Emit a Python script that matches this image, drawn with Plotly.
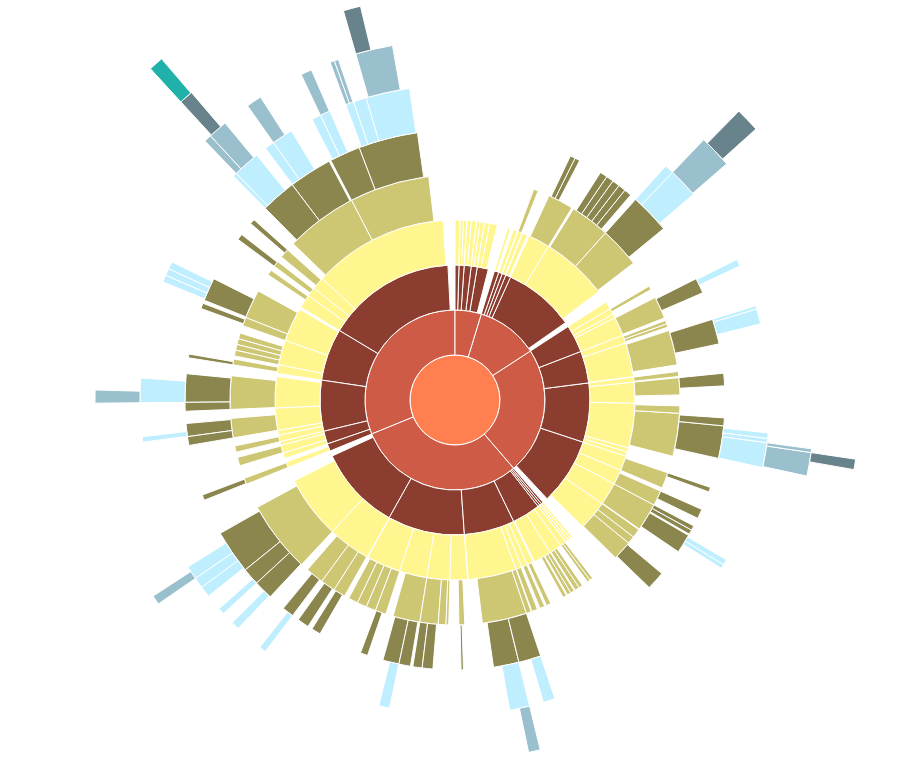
import plotly.graph_objects as go

# colour per ring, centre outwards
DEPTH_COLORS = ["#ff7f50", "#cd5b45", "#8b3e2f", "#fff68f", "#cdc673",
                "#8b864e", "#bfefff", "#9ac0cd", "#68838b", "#20b2aa"]
GAP = "rgba(0,0,0,0)"

# (node id, own value in degrees). ids are dotted paths, "g*" = empty gap.
# every list reads clockwise from 12 o'clock.
root = [("root", 0)]

sector_a = [
    ("A", 0),
    ("A.1", 0), ("A.1.1", 1.6), ("A.1.g", 0.1),
    ("A.2", 0), ("A.2.1", 1.0), ("A.2.2", 1.1), ("A.2.g", 0.1),
    ("A.3", 0), ("A.3.1", 1.3), ("A.3.2", 1.6), ("A.3.g", 0.1),
    ("A.4", 0), ("A.4.1", 1.1), ("A.4.2", 1.4), ("A.4.g", 0.1),
    ("A.5", 0), ("A.5.1", 1.6), ("A.5.2", 2.5), ("A.5.g", 0.7),
    ("A.g", 2.7),
]

sector_b = [
    ("B", 0),
    ("B.1", 0), ("B.1.1", 1.0), ("B.1.g", 0.9),
    ("B.2", 0), ("B.2.1", 1.4), ("B.2.g", 0.2),
    ("B.3", 0), ("B.3.1", 0), ("B.3.1.1", 1.2), ("B.3.1.g", 0.2), ("B.3.g", 0.2),
    ("B.4", 0), ("B.4.1", 1.6), ("B.4.g", 0.6),
    ("B.5", 0),
    ("B.5.1", 0), ("B.5.1.g1", 0.4), ("B.5.1.1", 0), ("B.5.1.1.g1", 0.6),
    ("B.5.1.1.1", 1.1), ("B.5.1.1.2", 1.1), ("B.5.1.1.g2", 3.8),
    ("B.5.2", 0), ("B.5.2.g1", 0.5),
    ("B.5.2.1", 0), ("B.5.2.1.g1", 0.8), ("B.5.2.1.1", 1.6), ("B.5.2.1.2", 1.6),
    ("B.5.2.1.3", 1.6), ("B.5.2.1.4", 1.6), ("B.5.2.1.5", 1.6), ("B.5.2.1.g2", 1.4),
    ("B.5.2.2", 0), ("B.5.2.2.1", 0), ("B.5.2.2.1.1", 1.7), ("B.5.2.2.1.2", 0),
    ("B.5.2.2.1.2.1", 0), ("B.5.2.2.1.2.1.g1", 0.8), ("B.5.2.2.1.2.1.1", 3.5),
    ("B.5.2.2.1.2.1.g2", 1.0), ("B.5.2.2.1.2.g", 0.2), ("B.5.2.2.1.g", 1.4),
    ("B.5.2.2.g", 1.9),
    ("B.5.2.g2", 0.5),
    ("B.5.g", 2.0),
    ("B.g", 2.0),
]

sector_c = [
    ("C", 0),
    ("C.1", 0),
    ("C.1.1", 2.5),
    ("C.1.2", 0), ("C.1.2.g1", 0.1), ("C.1.2.1", 1.0), ("C.1.2.g2", 0.9),
    ("C.1.3", 1.2),
    ("C.1.4", 0), ("C.1.4.g1", 0.2), ("C.1.4.1", 0), ("C.1.4.1.g1", 0.4),
    ("C.1.4.1.1", 0), ("C.1.4.1.1.g1", 0.2), ("C.1.4.1.1.1", 1.3),
    ("C.1.4.1.1.g2", 1.8), ("C.1.4.1.g2", 2.0), ("C.1.4.g2", 0.3),
    ("C.2", 0),
    ("C.2.1", 0), ("C.2.1.g1", 0.4), ("C.2.1.1", 0.9), ("C.2.1.2", 0.9), ("C.2.1.g2", 0.4),
    ("C.2.2", 0), ("C.2.2.g1", 0.5), ("C.2.2.1", 0), ("C.2.2.1.g1", 0.6),
    ("C.2.2.1.1", 0), ("C.2.2.1.1.1", 0.6), ("C.2.2.1.1.2", 2.8), ("C.2.2.1.1.g", 2.0),
    ("C.2.2.1.g2", 3.0), ("C.2.2.g2", 1.5),
    ("C.2.g", 0.2),
    ("C.3", 0),
    ("C.3.1", 0), ("C.3.1.1", 1.3), ("C.3.1.g", 0.3),
    ("C.3.2", 0), ("C.3.2.1", 0), ("C.3.2.1.1", 2.7), ("C.3.2.1.g", 1.7), ("C.3.2.g", 2.3),
    ("C.3.3", 0), ("C.3.3.g1", 0.5), ("C.3.3.1", 1.9), ("C.3.3.2", 0),
    ("C.3.3.2.g1", 0.4), ("C.3.3.2.1", 1.7), ("C.3.3.2.2", 0), ("C.3.3.2.2.g1", 0.5),
    ("C.3.3.2.2.1", 1.0), ("C.3.3.2.2.2", 0.8), ("C.3.3.2.2.3", 0),
    ("C.3.3.2.2.3.1", 0.6), ("C.3.3.2.2.3.2", 0), ("C.3.3.2.2.3.2.1", 1.5),
    ("C.3.3.2.2.3.2.g", 2.3), ("C.3.3.2.2.3.g", 0.2), ("C.3.3.2.2.g2", 0.1),
    ("C.3.3.2.g2", 2.0), ("C.3.3.g2", 0.9),
    ("C.3.4", 1.4), ("C.3.5", 1.4),
    ("C.4", 0),
    ("C.4.1", 0), ("C.4.1.g1", 0.7), ("C.4.1.1", 0), ("C.4.1.1.1", 1.0), ("C.4.1.1.g", 3.1),
    ("C.4.2", 0), ("C.4.2.g1", 0.9), ("C.4.2.1", 0), ("C.4.2.1.1", 2.1), ("C.4.2.1.g", 1.8),
    ("C.4.3", 0), ("C.4.3.1", 0), ("C.4.3.1.1", 1.0), ("C.4.3.1.2", 1.0),
    ("C.4.3.1.g1", 0.3), ("C.4.3.1.3", 0), ("C.4.3.1.3.g1", 0.4), ("C.4.3.1.3.1", 1.0),
    ("C.4.3.1.3.2", 0.8), ("C.4.3.1.3.g2", 1.9), ("C.4.3.1.g2", 0.8), ("C.4.3.g", 0.2),
    ("C.4.4", 0), ("C.4.4.1", 2.3), ("C.4.4.2", 2.0), ("C.4.4.3", 0),
    ("C.4.4.3.g1", 0.5), ("C.4.4.3.1", 4.0), ("C.4.4.3.g2", 0.5), ("C.4.4.g", 0.3),
    ("C.4.g", 2.2),
    ("C.g", 2.3),
]

sector_d = [
    ("D", 0),
    ("D.1", 0), ("D.1.1", 0.8), ("D.1.g", 0.1),
    ("D.2", 0), ("D.2.1", 0.8), ("D.2.g", 0.1),
    ("D.3", 0), ("D.3.1", 0.8), ("D.3.g", 0.1),
    ("D.4", 0),
    ("D.4.1", 0), ("D.4.1.g1", 0.3), ("D.4.1.1", 0.8), ("D.4.1.2", 0.8), ("D.4.1.g2", 0.1),
    ("D.4.2", 0), ("D.4.2.g1", 1.5), ("D.4.2.1", 1.0), ("D.4.2.2", 1.2), ("D.4.2.g2", 0.3),
    ("D.4.3", 0), ("D.4.3.1", 1.0), ("D.4.3.2", 1.0), ("D.4.3.g1", 0.3),
    ("D.4.3.3", 1.0), ("D.4.3.g2", 2.5),
    ("D.4.g", 0.4),
    ("D.5", 0),
    ("D.5.1", 0), ("D.5.1.g1", 0.6), ("D.5.1.1", 1.2), ("D.5.1.g2", 0.3),
    ("D.5.2", 0), ("D.5.2.g1", 0.2), ("D.5.2.1", 1.3), ("D.5.2.g2", 0.4),
    ("D.5.3", 0), ("D.5.3.g1", 0.3), ("D.5.3.1", 1.5), ("D.5.3.g2", 0.2),
    ("D.5.4", 0), ("D.5.4.1", 1.3), ("D.5.4.2", 0), ("D.5.4.2.1", 0),
    ("D.5.4.2.1.1", 2.2), ("D.5.4.2.1.g", 2.6), ("D.5.4.2.2", 0), ("D.5.4.2.2.1", 0),
    ("D.5.4.2.2.1.1", 1.9), ("D.5.4.2.2.1.g", 1.8), ("D.5.4.2.2.g", 1.8),
    ("D.5.4.2.g", 1.2), ("D.5.4.g", 2.8),
    ("D.5.g", 0.2),
    ("D.6", 0),
    ("D.6.1", 0), ("D.6.1.g1", 1.5), ("D.6.1.1", 0), ("D.6.1.1.g1", 0.7),
    ("D.6.1.1.1", 0.5), ("D.6.1.1.g2", 0.3), ("D.6.1.g2", 2.6),
    ("D.6.2", 0), ("D.6.2.1", 0.7), ("D.6.2.2", 2.0), ("D.6.2.3", 0),
    ("D.6.2.3.g", 0.4), ("D.6.2.3.1", 2.3), ("D.6.2.3.2", 2.0),
    ("D.6.3", 0), ("D.6.3.1", 0), ("D.6.3.1.g1", 0.5), ("D.6.3.1.1", 2.5),
    ("D.6.3.1.2", 0), ("D.6.3.1.2.1", 2.0), ("D.6.3.1.2.g", 1.5), ("D.6.3.1.g2", 0.5),
    ("D.6.3.g", 1.9),
    ("D.6.4", 0), ("D.6.4.1", 0), ("D.6.4.1.g1", 1.0), ("D.6.4.1.1", 1.6),
    ("D.6.4.1.g2", 0.2), ("D.6.4.2", 2.5), ("D.6.4.3", 2.5), ("D.6.4.4", 2.5),
    ("D.6.4.g", 0.8),
    ("D.6.g", 0.2),
    ("D.7", 0),
    ("D.7.1", 0), ("D.7.1.g1", 0.2),
    ("D.7.1.1", 0), ("D.7.1.1.g1", 0.6), ("D.7.1.1.1", 2.0), ("D.7.1.1.g2", 0.5),
    ("D.7.1.2", 0), ("D.7.1.2.g1", 0.5), ("D.7.1.2.1", 2.5), ("D.7.1.2.g2", 0.8),
    ("D.7.1.3", 0), ("D.7.1.3.g1", 0.7), ("D.7.1.3.1", 0), ("D.7.1.3.1.1", 1.3),
    ("D.7.1.3.1.g", 1.2), ("D.7.1.3.g2", 1.5),
    ("D.7.1.g2", 2.0),
    ("D.7.2", 0), ("D.7.2.1", 0), ("D.7.2.1.g1", 0.2),
    ("D.7.2.1.1", 0), ("D.7.2.1.1.g1", 0.3), ("D.7.2.1.1.1", 1.5), ("D.7.2.1.1.g2", 2.3),
    ("D.7.2.1.2", 0), ("D.7.2.1.2.1", 1.2), ("D.7.2.1.2.g", 2.5),
    ("D.7.2.1.3", 0), ("D.7.2.1.3.g1", 0.5), ("D.7.2.1.3.1", 2.0), ("D.7.2.1.3.2", 2.0),
    ("D.7.2.1.3.3", 0), ("D.7.2.1.3.3.1", 1.5), ("D.7.2.1.3.3.g", 1.0),
    ("D.7.2.1.3.g2", 2.4),
    ("D.7.2.1.g2", 1.1), ("D.7.2.g", 1.8),
    ("D.7.g", 2.2),
    ("D.g", 2.3),
]

sector_e = [
    ("E", 0),
    ("E.1", 0), ("E.1.g1", 0.2), ("E.1.1", 0), ("E.1.1.1", 0), ("E.1.1.1.g1", 0.2),
    ("E.1.1.1.1", 1.2), ("E.1.1.1.g2", 0.2), ("E.1.1.g", 0.2), ("E.1.g2", 1.2),
    ("E.2", 0), ("E.2.1", 1.8), ("E.2.2", 0), ("E.2.2.g1", 0.2), ("E.2.2.1", 2.2),
    ("E.2.2.g2", 0.2), ("E.2.3", 1.2),
    ("E.3", 0),
    ("E.3.1", 0), ("E.3.1.1", 1.6), ("E.3.1.g", 0.5),
    ("E.3.2", 1.5),
    ("E.3.3", 0), ("E.3.3.g1", 0.1), ("E.3.3.1", 0), ("E.3.3.1.1", 1.9),
    ("E.3.3.1.2", 0), ("E.3.3.1.2.g1", 0.1), ("E.3.3.1.2.1", 1.0), ("E.3.3.1.2.g2", 1.7),
    ("E.3.3.1.g", 0.3), ("E.3.3.g2", 2.1),
    ("E.3.4", 0), ("E.3.4.g1", 0.2), ("E.3.4.1", 0), ("E.3.4.1.1", 1.9),
    ("E.3.4.1.2", 0), ("E.3.4.1.2.1", 0), ("E.3.4.1.2.1.1", 2.1), ("E.3.4.1.2.1.g", 2.4),
    ("E.3.4.1.2.g", 1.6), ("E.3.4.1.g", 0.6), ("E.3.4.g2", 1.3),
    ("E.3.g", 1.0),
    ("E.4", 0),
    ("E.4.1", 0), ("E.4.1.g1", 0.5), ("E.4.1.1", 0), ("E.4.1.1.1", 0.8),
    ("E.4.1.1.g", 0.7), ("E.4.1.g2", 0.8),
    ("E.4.2", 0), ("E.4.2.1", 1.5), ("E.4.2.2", 1.5), ("E.4.2.3", 1.5), ("E.4.2.4", 1.5),
    ("E.4.2.g", 2.0),
    ("E.4.3", 0), ("E.4.3.1", 0), ("E.4.3.1.g1", 0.5), ("E.4.3.1.1", 1.2), ("E.4.3.1.g2", 0.5),
    ("E.4.3.2", 0), ("E.4.3.2.g1", 0.2), ("E.4.3.2.1", 0), ("E.4.3.2.1.g1", 0.3),
    ("E.4.3.2.1.1", 1.3), ("E.4.3.2.1.2", 1.3), ("E.4.3.2.1.3", 1.4),
    ("E.4.3.2.1.g2", 0.7), ("E.4.3.2.g2", 2.3),
    ("E.4.3.g", 1.3),
    ("E.4.g", 0.7),
    ("E.5", 0),
    ("E.5.1", 0), ("E.5.1.g1", 2.8), ("E.5.1.1", 1.4), ("E.5.1.g2", 0.2),
    ("E.5.2", 0), ("E.5.2.g1", 1.1), ("E.5.2.1", 0), ("E.5.2.1.1", 1.3),
    ("E.5.2.1.g", 0.2), ("E.5.2.g2", 0.4),
    ("E.5.3", 0), ("E.5.3.g1", 1.1), ("E.5.3.1", 0), ("E.5.3.1.g", 1.3),
    ("E.5.3.1.1", 1.1), ("E.5.3.g2", 0.5),
    ("E.5.4", 0), ("E.5.4.g1", 1.6),
    ("E.5.4.1", 0), ("E.5.4.1.g1", 1.3),
    ("E.5.4.1.1", 0), ("E.5.4.1.1.1", 0.7), ("E.5.4.1.1.2", 0), ("E.5.4.1.1.2.1", 1.2),
    ("E.5.4.1.1.2.2", 0), ("E.5.4.1.1.2.2.g1", 0.2), ("E.5.4.1.1.2.2.1", 0),
    ("E.5.4.1.1.2.2.1.1", 1.9), ("E.5.4.1.1.2.2.1.g", 0.1), ("E.5.4.1.1.2.2.g2", 0.9),
    ("E.5.4.1.1.2.g", 0.7), ("E.5.4.1.1.g", 1.9),
    ("E.5.4.1.2", 0), ("E.5.4.1.2.g1", 0.1), ("E.5.4.1.2.1", 1.8), ("E.5.4.1.2.2", 0),
    ("E.5.4.1.2.2.1", 2.5), ("E.5.4.1.2.2.g", 1.4), ("E.5.4.1.2.g2", 3.5),
    ("E.5.4.1.g2", 0.4),
    ("E.5.4.2", 0),
    ("E.5.4.2.1", 0), ("E.5.4.2.1.g1", 0.4), ("E.5.4.2.1.1", 1.7), ("E.5.4.2.1.2", 0),
    ("E.5.4.2.1.2.1", 1.8), ("E.5.4.2.1.2.g", 0.1), ("E.5.4.2.1.g2", 2.6),
    ("E.5.4.2.2", 0), ("E.5.4.2.2.g1", 0.5), ("E.5.4.2.2.1", 0), ("E.5.4.2.2.1.1", 0.7),
    ("E.5.4.2.2.1.2", 0.7), ("E.5.4.2.2.1.g", 0.1), ("E.5.4.2.2.2", 2.4),
    ("E.5.4.2.2.3", 0), ("E.5.4.2.2.3.g1", 0.4), ("E.5.4.2.2.3.1", 0),
    ("E.5.4.2.2.3.1.1", 2.5), ("E.5.4.2.2.3.1.g", 3.5), ("E.5.4.2.2.3.g2", 1.7),
    ("E.5.4.2.2.g2", 0.3),
    ("E.5.4.2.g", 1.3),
    ("E.5.4.g2", 2.9),
    ("E.5.g", 0.8),
    ("E.g", 3.0),
]

nodes = root + sector_a + sector_b + sector_c + sector_d + sector_e
# plotly lays siblings out counterclockwise, the lists read clockwise
nodes = nodes[::-1]

ids = [n for n, _ in nodes]
values = [v for _, v in nodes]
parents = ["" if n == "root" else (n.rsplit(".", 1)[0] if "." in n else "root") for n in ids]
is_gap = [n.split(".")[-1].startswith("g") for n in ids]
depth = [0 if n == "root" else n.count(".") + 1 for n in ids]
colors = [GAP if g else DEPTH_COLORS[d] for g, d in zip(is_gap, depth)]
line_w = [0 if g else 1 for g in is_gap]

fig = go.Figure(go.Sunburst(
    ids=ids,
    labels=ids,
    parents=parents,
    values=values,
    branchvalues="remainder",
    sort=False,
    rotation=90,
    textinfo="none",
    hoverinfo="none",
    leaf=dict(opacity=1),
    marker=dict(colors=colors, line=dict(color="white", width=line_w)),
    domain=dict(x=[0, 1], y=[0, 1]),
))

fig.update_layout(
    width=910,
    height=900,
    margin=dict(l=0, r=0, t=0, b=0),
    paper_bgcolor="white",
    showlegend=False,
)

# the rings reach past the top of the window, as in the original
shift = ("document.body.style.margin='0';document.body.style.overflow='hidden';"
         "document.getElementById('{plot_id}').style.marginTop='-50px';")
fig.write_html("out.html", post_script=shift)
